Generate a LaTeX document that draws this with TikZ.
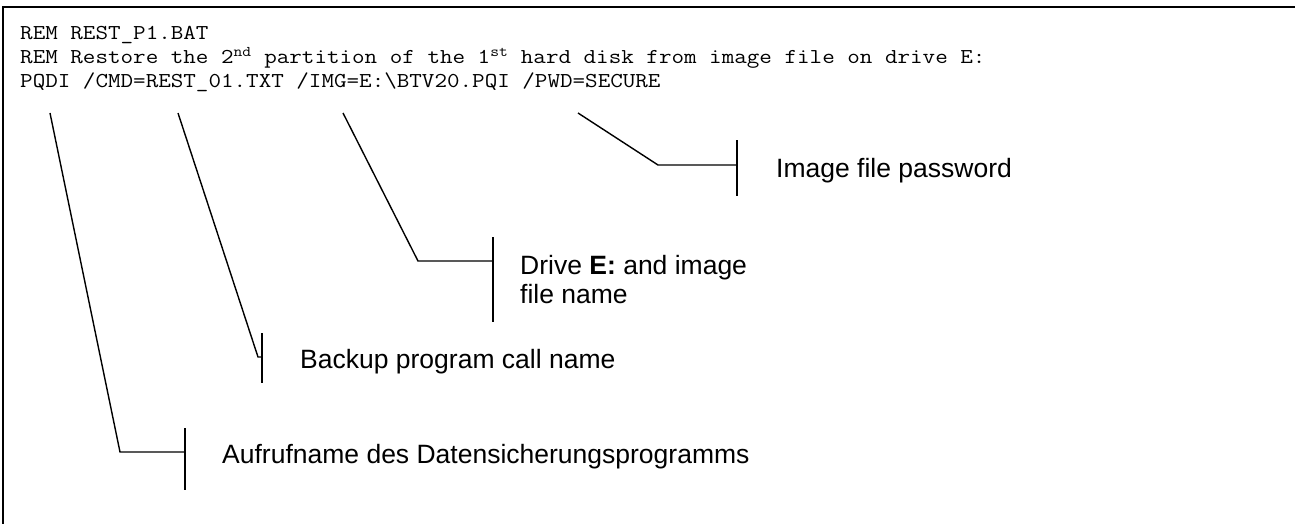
\documentclass[tikz,border=0pt]{standalone}
\usepackage{fontspec}
\setmainfont{Liberation Sans}
\newfontfamily\codefont{Latin Modern Mono}[FakeStretch=1.15]
\begin{document}
\begin{tikzpicture}[x=1pt,y=-1pt,
  frame/.style={line width=2.2pt},
  leader/.style={line width=1.4pt},
  codeline/.style={anchor=base west,inner sep=0pt,font=\codefont\fontsize{21.2}{24}\selectfont},
  note/.style={anchor=base west,inner sep=0pt,align=left,font=\fontsize{26.5}{29}\selectfont}]
\useasboundingbox (0,0) rectangle (1295,524);

% frame: top and left edges only
\draw[frame] (2,7) -- (1295,7);
\draw[frame] (3,7) -- (3,524);

% batch file listing
\node[codeline] (l1) at (20,40) {REM REST\_P1.BAT};
\node[codeline] (l2) at (20,64) {REM Restore the 2\textsuperscript{nd} partition of the 1\textsuperscript{st} hard disk from image file on drive E:};
\node[codeline] (l3) at (20,88) {PQDI /CMD=REST\_01.TXT /IMG=E:\textbackslash BTV20.PQI /PWD=SECURE};

% explanations (base anchor = baseline of the last line)
\node[note] (pwd) at (776,177) {Image file password};
\node[note] (img) at (520,303) {Drive \textbf{E:} and image\\file name};
\node[note] (cmd) at (300,368) {Backup program call name};
\node[note] (prg) at (222,463) {Aufrufname des Datensicherungsprogramms};

% leader points
\coordinate (a0) at (50,113);  \coordinate (a1) at (120,452);
\coordinate (at) at (185,428); \coordinate (ab) at (185,490);
\coordinate (b0) at (178,113); \coordinate (b1) at (258,357);
\coordinate (bt) at (262,333); \coordinate (bb) at (262,383);
\coordinate (c0) at (343,113); \coordinate (c1) at (418,261);
\coordinate (ct) at (493,237); \coordinate (cb) at (493,322);
\coordinate (d0) at (578,113); \coordinate (d1) at (658,165);
\coordinate (dt) at (737,140); \coordinate (db) at (737,196);

% leaders with end ticks
\draw[leader] (a0) -- (a1) -- (a1 -| at);
\draw[leader] (at) -- (ab);
\draw[leader] (b0) -- (b1) -- (b1 -| bt);
\draw[leader] (bt) -- (bb);
\draw[leader] (c0) -- (c1) -- (c1 -| ct);
\draw[leader] (ct) -- (cb);
\draw[leader] (d0) -- (d1) -- (d1 -| dt);
\draw[leader] (dt) -- (db);
\end{tikzpicture}
\end{document}
